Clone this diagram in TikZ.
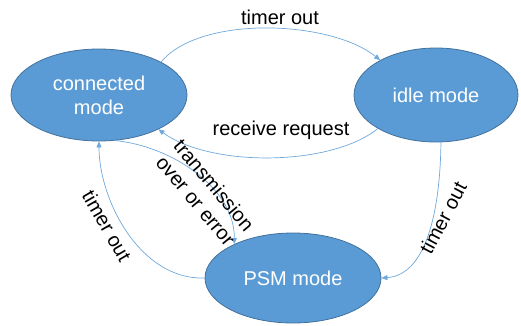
\documentclass[tikz,border=0pt]{standalone}
\usepackage{fontspec}
\setmainfont{Liberation Sans}
\usetikzlibrary{shapes.geometric,arrows.meta}
\definecolor{statefill}{HTML}{5B9BD5}
\definecolor{stateedge}{HTML}{41719C}
\definecolor{linkblue}{HTML}{6FA8DC}
\begin{document}
\begin{tikzpicture}[x=1pt,y=1pt,
  state/.style={ellipse,fill=statefill,draw=stateedge,line width=0.8pt,
    text=white,align=center,inner sep=0pt,
    font=\fontsize{20}{24}\selectfont},
  link/.style={draw=linkblue,line width=0.7pt,
    -{Triangle[length=6pt,width=5pt]}},
  lbl/.style={text=black,align=center,inner sep=0pt,
    font=\fontsize{20}{24}\selectfont}]
\useasboundingbox (0,0) rectangle (521,325);

% states
\node[state,minimum width=176pt,minimum height=92pt] (con) at (99,230) {connected\\mode};
\node[state,minimum width=164pt,minimum height=94pt] (idle) at (436,230) {idle mode};
\node[state,minimum width=176pt,minimum height=90pt] (psm) at (293,47) {PSM mode};

% transitions
\draw[link] (con.28) .. controls (200,310) and (330,305) .. (idle.148);
\draw[link] (idle.210) .. controls (330,158) and (210,158) .. (con.330);
\draw[link] (con.290) .. controls (175,178) and (235,135) .. (psm.150);
\draw[link] (psm.180) .. controls (140,45) and (99,125) .. (con.270);
\draw[link] (idle.276) .. controls (440,110) and (425,50) .. (psm.0);

% transition labels
\node[lbl] (t1) at (280,308) {timer out};
\node[lbl] (t2) at (281,195) {receive request};
\node[lbl,rotate=-50] (t3) at (205,132) {transmission\\over or error};
\node[lbl,rotate=-60] (t4) at (107,99) {timer out};
\node[lbl,rotate=62] (t5) at (443,107) {timer out};
\end{tikzpicture}
\end{document}
